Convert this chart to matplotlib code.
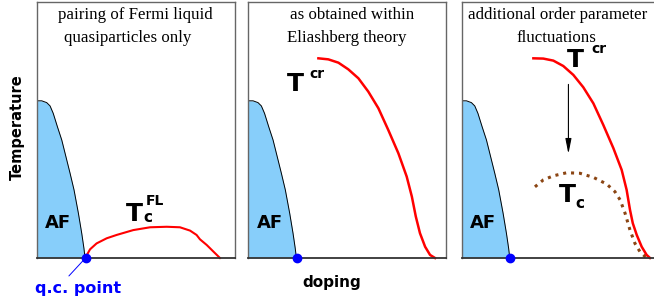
import matplotlib
matplotlib.use("Agg")
import matplotlib.pyplot as plt

# antiferromagnetic dome boundary (doping, temperature), shared by all panels
af_x = [0.0, 0.024, 0.049, 0.066, 0.082, 0.103, 0.125, 0.146, 0.167, 0.187,
        0.209, 0.226, 0.237, 0.242, 0.245]
af_t = [0.614, 0.614, 0.607, 0.594, 0.565, 0.513, 0.461, 0.396, 0.331, 0.266,
        0.175, 0.096, 0.038, 0.005, 0.0]
qcp_x = 0.245

# Tc of Fermi-liquid pairing (panel 1)
tfl_x = [0.245, 0.247, 0.268, 0.301, 0.352, 0.402, 0.486, 0.571, 0.655, 0.722,
         0.773, 0.806, 0.823, 0.857, 0.891, 0.924]
tfl_t = [0.0, 0.005, 0.034, 0.057, 0.077, 0.090, 0.109, 0.120, 0.122, 0.120,
         0.107, 0.090, 0.073, 0.051, 0.025, 0.0]

# T^cr from Eliashberg theory (panel 2)
tcr2_x = [0.354, 0.404, 0.455, 0.505, 0.556, 0.606, 0.657, 0.707, 0.758, 0.800,
          0.826, 0.846, 0.867, 0.893, 0.918, 0.943]
tcr2_t = [0.780, 0.776, 0.763, 0.737, 0.702, 0.650, 0.585, 0.500, 0.409, 0.318,
          0.240, 0.162, 0.097, 0.044, 0.012, 0.0]

# T^cr in panel 3
tcr3_x = [0.362, 0.412, 0.463, 0.513, 0.564, 0.614, 0.665, 0.715, 0.766, 0.808,
          0.833, 0.850, 0.864, 0.884, 0.909, 0.934, 0.951]
tcr3_t = [0.780, 0.779, 0.771, 0.750, 0.715, 0.667, 0.604, 0.520, 0.429, 0.344,
          0.266, 0.188, 0.136, 0.090, 0.044, 0.012, 0.0]

# Tc with order parameter fluctuations (panel 3)
tc_x = [0.370, 0.412, 0.463, 0.530, 0.597, 0.665, 0.732, 0.774, 0.800, 0.825,
        0.850, 0.875, 0.900, 0.934]
tc_t = [0.278, 0.305, 0.321, 0.333, 0.331, 0.315, 0.289, 0.259, 0.227, 0.175,
        0.109, 0.057, 0.025, 0.0]

titles = [("pairing of Fermi liquid", "quasiparticles only"),
          ("as obtained within", "Eliashberg theory"),
          ("additional order parameter", "fluctuations")]

W, H = 654, 299
fig = plt.figure(figsize=(W / 100, H / 100), dpi=100)

lefts = [37, 248.3, 461.7]
axes = []
for i, l in enumerate(lefts):
    ax = fig.add_axes([l / W, (H - 258) / H, 198 / W, 256 / H])
    ax.set_xlim(0, 1)
    ax.set_ylim(0, 1)
    ax.set_xticks([])
    ax.set_yticks([])
    for s in ax.spines.values():
        s.set_color("#666666")
        s.set_linewidth(1.0)
    ax.spines["bottom"].set_color("#333333")
    ax.spines["bottom"].set_linewidth(1.3)
    ax.fill_between(af_x, af_t, 0, color="#87CEFA", lw=0)
    ax.plot(af_x, af_t, color="black", lw=0.7)
    ax.plot([qcp_x], [0], "o", color="blue", ms=6, clip_on=False, zorder=5)
    ax.text(0.108, 0.137, "AF", fontsize=13, fontweight="bold", ha="center", va="center")
    axes.append(ax)

serif = "Liberation Serif"
ax1, ax2, ax3 = axes

# convert a pixel position to axes fractions
def tpos(ax_left, px, py):
    return (px - ax_left) / 198, (258 - py) / 256

for ax, l, (a, b), c1, c2 in [(ax1, 37, titles[0], 135, 127.5),
                               (ax2, 248.3, titles[1], 351.7, 347),
                               (ax3, 461.7, titles[2], 558, 556)]:
    ax.text(*tpos(l, c1, 15), a, family=serif, fontsize=12.2, ha="center", va="center")
    ax.text(*tpos(l, c2, 38), b, family=serif, fontsize=12.2, ha="center", va="center")

# panel 1
ax1.plot(tfl_x, tfl_t, color="red", lw=1.5, clip_on=False)
ax1.text(*tpos(37, 134.5, 214), "T", fontsize=18, fontweight="bold", ha="center", va="center")
ax1.text(*tpos(37, 148, 218), "c", fontsize=11, fontweight="bold", ha="center", va="center")
ax1.text(*tpos(37, 154.5, 201), "FL", fontsize=10, fontweight="bold", ha="center", va="center")
ax1.annotate("", xy=(qcp_x, 0), xytext=tpos(37, 67, 278), xycoords="data",
             textcoords="data", arrowprops=dict(arrowstyle="-", color="blue", lw=0.7),
             annotation_clip=False)
ax1.text(*tpos(37, 78, 288), "q.c. point", fontsize=11.5, fontweight="bold",
         color="blue", ha="center", va="center")
ax1.text(-0.1, 0.51, "Temperature", rotation=90, fontsize=10.5, fontweight="bold",
         ha="center", va="center", transform=ax1.transAxes)

# panel 2
ax2.plot(tcr2_x, tcr2_t, color="red", lw=1.8, clip_on=False)
ax2.text(*tpos(248.3, 295.5, 84), "T", fontsize=18, fontweight="bold", ha="center", va="center")
ax2.text(*tpos(248.3, 316.5, 74), "cr", fontsize=10, fontweight="bold", ha="center", va="center")
ax2.text(*tpos(248.3, 331.7, 283), "doping", fontsize=11, fontweight="bold",
         ha="center", va="center")

# panel 3
ax3.plot(tc_x, tc_t, color="#8B4513", lw=2.2, ls=(0, (1, 1.6)), clip_on=False)
ax3.plot(tcr3_x, tcr3_t, color="red", lw=1.8, clip_on=False)
ax3.text(*tpos(461.7, 575, 60), "T", fontsize=18, fontweight="bold", ha="center", va="center")
ax3.text(*tpos(461.7, 598.5, 49), "cr", fontsize=10, fontweight="bold", ha="center", va="center")
ax3.text(*tpos(461.7, 567.5, 195), "T", fontsize=18, fontweight="bold", ha="center", va="center")
ax3.text(*tpos(461.7, 580, 204), "c", fontsize=11, fontweight="bold", ha="center", va="center")
ax3.annotate("", xy=(0.539, 0.396), xytext=(0.539, 0.689),
             arrowprops=dict(arrowstyle="-|>,head_length=0.9,head_width=0.18",
                             color="black", lw=0.8))

fig.savefig("out.png", dpi=100)
